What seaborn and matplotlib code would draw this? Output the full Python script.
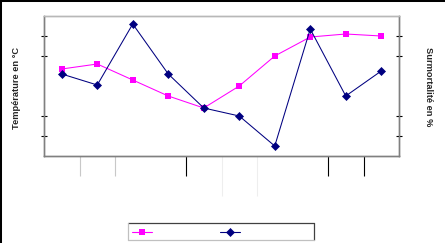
import matplotlib
matplotlib.use("Agg")
import matplotlib.pyplot as plt
from matplotlib.lines import Line2D
import seaborn as sns
import pandas as pd

# ---- data (no tick labels are shown in the reference) ----
categories = [0, 1, 2, 3, 4, 5, 6, 7, 8, 9]
temperature = [8.7, 9.2, 7.6, 6.0, 4.8, 7.0, 10.0, 11.9, 12.2, 12.0]
surmortalite = [41, 35.5, 66, 41, 24, 20, 5, 63.5, 30, 42.5]
temp_ticks = [2, 4, 10, 12]
surm_ticks = [10, 20, 50, 60]
xtick_pos = [0.5, 1.5, 3.5, 4.5, 5.5, 7.5, 8.5]

df = pd.DataFrame({"cat": categories, "temp": temperature, "surm": surmortalite})

sns.set_style("white")
plt.rcParams["font.family"] = ["Liberation Sans", "DejaVu Sans"]

W, H = 445, 243
fig = plt.figure(figsize=(W / 100, H / 100), dpi=100)
ax = fig.add_axes([44 / W, 1 - 156 / H, 355 / W, 140 / H])
ax2 = ax.twinx()

PINK = "#ff00ff"
NAVY = "#000080"

sns.lineplot(data=df, x="cat", y="temp", ax=ax, color=PINK, marker="s",
             markersize=4, markeredgewidth=0, linewidth=0.75)
sns.lineplot(data=df, x="cat", y="surm", ax=ax2, color=NAVY, marker="D",
             markersize=3.8, markeredgewidth=0.5, markeredgecolor=NAVY, linewidth=0.75)

ax.set_xlim(-0.5, 9.5)
ax.set_ylim(0, 14)
ax2.set_ylim(0, 70)

for a in (ax, ax2):
    for s in ("left", "right", "bottom"):
        a.spines[s].set_color("#808080")
        a.spines[s].set_linewidth(1.0)
        a.spines[s].set_visible(True)
    a.spines["top"].set_color("#b8b8b8")
    a.spines["top"].set_linewidth(1.0)
    a.spines["top"].set_visible(True)

ax.set_yticks(temp_ticks)
ax.tick_params(axis="y", which="major", direction="inout", length=5, width=0.8,
               color="black", left=True, labelleft=False, right=False)
ax2.set_yticks(surm_ticks)
ax2.tick_params(axis="y", which="major", direction="inout", length=5, width=0.8,
                color="black", right=True, labelright=False, left=False)

ax.set_xticks(xtick_pos)
ax.tick_params(axis="x", which="major", direction="out", bottom=True, top=False,
               labelbottom=False, width=0.8)
ax2.tick_params(axis="x", which="both", bottom=False, top=False,
                labelbottom=False, labeltop=False)
tick_colors = ["#c8c8c8", "#c8c8c8", "black", "#eeeeee", "#eeeeee", "black", "black"]
tick_lens = [14.4, 14.4, 14.4, 28.8, 28.8, 14.4, 14.4]
for t, c, L in zip(ax.xaxis.get_major_ticks(), tick_colors, tick_lens):
    t.tick1line.set_markeredgecolor(c)
    t.tick1line.set_markersize(L)

ax.set_xlabel("")
ax2.set_xlabel("")
ax.set_ylabel("Température en °C", fontsize=6.7, fontweight="bold", va="center")
ax.yaxis.set_label_coords((17 - 44) / 355, (156 - 88) / 140)
ax2.set_ylabel("Surmortalité en %", fontsize=6.7, fontweight="bold", rotation=270,
               va="center")
ax2.yaxis.set_label_coords((428 - 44) / 355, (156 - 87) / 140)

# legend (labels are blank in the reference)
handles = [
    Line2D([], [], color=PINK, marker="s", markersize=4, markeredgewidth=0, linewidth=0.8),
    Line2D([], [], color=NAVY, marker="D", markersize=3.8, markeredgewidth=0.5,
           linewidth=0.8),
]
fs = 7
fig.legend(handles, ["", ""], ncol=2, frameon=False, fontsize=fs,
           loc="center left", bbox_to_anchor=(132 / W, 1 - 232 / H),
           borderpad=0, borderaxespad=0, handlelength=20 / (fs * 100 / 72),
           handletextpad=0, columnspacing=68 / (fs * 100 / 72))

def fl(x0, y0, x1, y1, color, lw):
    fig.add_artist(Line2D([x0 / W, x1 / W], [1 - y0 / H, 1 - y1 / H],
                          transform=fig.transFigure, color=color, linewidth=lw))

# legend box
fl(128, 223, 314, 223, "#404040", 0.9)
fl(314, 223, 314, 240, "#404040", 0.9)
fl(128, 240, 314, 240, "#c0c0c0", 0.9)
fl(128, 223, 128, 240, "#c0c0c0", 0.9)

# figure border (top and left only)
fl(0, 0, W, 0, "black", 2.9)
fl(0, 0, 0, H, "black", 2.9)

fig.savefig("out.png", dpi=100)
